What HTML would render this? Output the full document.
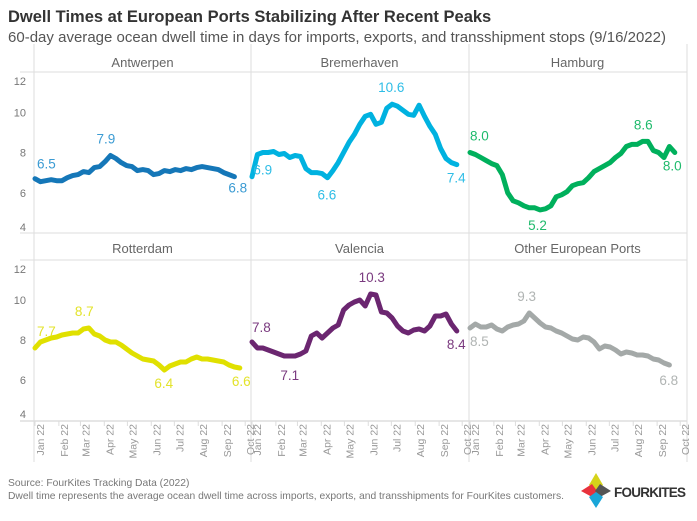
<!DOCTYPE html>
<html><head><meta charset="utf-8"><style>
body{margin:0;background:#fff;width:697px;height:516px;overflow:hidden;font-family:"Liberation Sans",sans-serif}
</style></head><body>
<svg id="c" width="697" height="516" xmlns="http://www.w3.org/2000/svg" font-family="Liberation Sans, sans-serif">
<text x="8" y="22" font-size="16.5" font-weight="bold" fill="#333">Dwell Times at European Ports Stabilizing After Recent Peaks</text>
<text x="8" y="42" font-size="15" fill="#555" textLength="658">60-day average ocean dwell time in days for imports, exports, and transshipment stops (9/16/2022)</text>
<text x="8" y="486" font-size="10.3" fill="#777">Source: FourKites Tracking Data (2022)</text>
<text x="8" y="499" font-size="10.3" fill="#777" textLength="556">Dwell time represents the average ocean dwell time across imports, exports, and transshipments for FourKites customers.</text>
<g>
<polygon points="596,473 603,485 596,490 589,485" fill="#d6d31a"/>
<polygon points="581,491 592,484 597,491 592,497" fill="#e8323c"/>
<polygon points="611,491 600,484 595,491 600,497" fill="#555"/>
<polygon points="596,508 603,497 596,492 589,497" fill="#1aa6d8"/>
<text x="614" y="497" font-size="13.5" font-weight="bold" fill="#333" textLength="72">FOURKITES</text>
</g>
<g id="g"></g>
</svg>
<script>
const ports=["Antwerpen","Bremerhaven","Hamburg","Rotterdam","Valencia","Other European Ports"];
const colors=["#1577b8","#00b2e0","#00b05c","#e0e000","#6b2670","#a4a9a8"];
const labelColors=["#3b9bd3","#2ebde6","#1fba6c","#e3e32a","#7a3a7f","#b0b4b3"];
const yTicks=[4,6,8,10,12];
const months=["Jan 22","Feb 22","Mar 22","Apr 22","May 22","Jun 22","Jul 22","Aug 22","Sep 22","Oct 22"];
const monthDays=[0,31,59,90,120,151,181,212,243,273];
const antwerpen=[6.7,6.55,6.6,6.65,6.6,6.6,6.75,6.85,6.9,7.05,7.0,7.25,7.3,7.55,7.85,7.7,7.5,7.35,7.3,7.1,7.15,7.1,6.9,6.95,7.1,7.05,7.15,7.1,7.2,7.15,7.25,7.3,7.25,7.2,7.15,7.0,6.9,6.8];
const bremerhaven=[6.8,7.9,8.0,8.0,8.05,7.9,7.95,7.75,7.85,7.8,7.2,7.0,7.0,6.95,6.75,7.1,7.5,8.0,8.5,8.9,9.4,9.8,9.9,9.4,9.5,10.2,10.4,10.3,10.1,9.9,9.85,10.35,9.8,9.3,8.9,8.2,7.7,7.5,7.4];
const hamburg=[8.0,7.9,7.75,7.6,7.45,7.35,6.9,6.0,5.6,5.5,5.35,5.25,5.25,5.15,5.2,5.35,5.8,5.9,6.05,6.35,6.45,6.5,6.75,7.05,7.2,7.35,7.5,7.75,7.95,8.3,8.4,8.4,8.55,8.55,8.1,8.0,7.75,8.3,8.0];
const rotterdam=[7.6,7.9,8.0,8.1,8.15,8.25,8.3,8.35,8.35,8.55,8.6,8.3,8.2,8.0,7.9,7.9,7.75,7.55,7.35,7.2,7.05,7.0,6.95,6.75,6.5,6.7,6.8,6.9,6.9,7.05,7.15,7.05,7.05,7.0,6.95,6.9,6.75,6.65,6.6];
const valencia=[7.9,7.6,7.6,7.5,7.4,7.3,7.2,7.2,7.2,7.3,7.45,8.2,8.35,8.1,8.35,8.6,8.75,9.5,9.75,9.9,10.0,9.7,10.3,10.25,9.4,9.35,9.1,8.7,8.45,8.35,8.5,8.55,8.45,8.7,9.2,9.2,9.3,8.8,8.45];
const other=[8.6,8.8,8.65,8.65,8.75,8.55,8.45,8.65,8.75,8.8,8.95,9.35,9.1,8.85,8.65,8.6,8.45,8.35,8.2,8.05,8.0,8.15,8.1,7.9,7.55,7.7,7.65,7.5,7.3,7.4,7.35,7.25,7.25,7.2,7.05,7.0,6.85,6.75];
const series=[antwerpen,bremerhaven,hamburg,rotterdam,valencia,other];
const annotations=[
 [["6.5",0,2,-10],["7.9",14,-14,-12],["6.8",37,-6,16]],
 [["6.9",1,-4,20],["6.6",14,-10,22],["10.6",26,-14,-12],["7.4",38,-10,18]],
 [["8.0",0,0,-12],["5.2",13,-12,20],["8.6",33,-14,-12],["8.0",38,-12,18]],
 [["7.7",0,2,-12],["8.7",10,-14,-12],["6.4",24,-10,18],["6.6",38,-8,18]],
 [["7.8",0,0,-10],["7.1",6,-4,24],["10.3",22,-12,-12],["8.4",38,-10,18]],
 [["8.5",0,0,18],["9.3",11,-12,-12],["6.8",37,-10,20]]
];
const cols=[34,251,469], colW=217;
const rows=[{hTop:54,top:72,bot:233},{hTop:240,top:260,bot:420}];
const NS="http://www.w3.org/2000/svg";
const g=document.getElementById('g');
function el(t,a,p){const e=document.createElementNS(NS,t);for(const k in a)e.setAttribute(k,a[k]);(p||g).appendChild(e);return e;}
function xS(c,day){return cols[c]+day*0.77+1;}
function yS(r,v){const R=rows[r];return R.bot-(v-4)*(R.bot-R.top)/8;}
el('line',{x1:20,x2:687,y1:72,y2:72,stroke:'#ddd'});
el('line',{x1:20,x2:687,y1:233,y2:233,stroke:'#ddd'});
el('line',{x1:20,x2:687,y1:260,y2:260,stroke:'#ddd'});
el('line',{x1:20,x2:687,y1:421,y2:421,stroke:'#ccc'});
[34,251,469,687].forEach(x=>{el('line',{x1:x,x2:x,y1:44,y2:462,stroke:'#ddd'});});
for(let r=0;r<2;r++){
  yTicks.forEach(v=>{
    let y=yS(r,v); if(v===12)y+=9; if(v===4)y-=6;
    const t=el('text',{x:26,y:y+4,'font-size':11,fill:'#777','text-anchor':'end'});
    
    
    t.textContent=v;
  });
}
for(let c=0;c<3;c++){
  months.forEach((m,i)=>{
    const x=xS(c,monthDays[i]);
    el('line',{x1:x,x2:x,y1:421,y2:426,stroke:'#ddd'});
    const t=el('text',{x:0,y:0,'font-size':10.5,fill:'#999','text-anchor':'end',transform:`translate(${x+9},424) rotate(-90)`});
    
    
    t.textContent=m;
  });
}
series.forEach((s,k)=>{
  const c=k%3,r=Math.floor(k/3);
  const t=el('text',{x:cols[c]+colW/2,y:rows[r].hTop+13,'font-size':13,fill:'#666','text-anchor':'middle'});
  
  
  t.textContent=ports[k];
  const pts=s.map((v,i)=>xS(c,i*7).toFixed(1)+','+yS(r,v).toFixed(1)).join(' ');
  const p=el('polyline',{points:pts,fill:'none',stroke:colors[k],'stroke-width':5,'stroke-linejoin':'round','stroke-linecap':'round'});
  
  
  annotations[k].forEach(a=>{
    const i=a[1];
    const lt=el('text',{x:xS(c,i*7)+a[2],y:yS(r,s[i])+a[3],'font-size':13.5,fill:labelColors[k]});
    
    
    lt.textContent=a[0];
  });
});
</script>
</body></html>
